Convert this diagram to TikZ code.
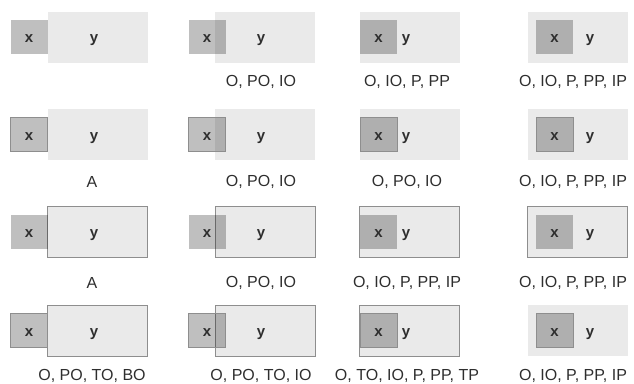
\documentclass[tikz,border=0pt]{standalone}
\usepackage{fontspec}
\setmainfont{Liberation Sans}
\definecolor{yFill}{HTML}{EAEAEA}
\definecolor{rim}{HTML}{8E8E8E}
\definecolor{ink}{HTML}{2E2E2E}

\begin{document}
\begin{tikzpicture}[
  x=1pt, y=-1pt,
  font=\fontsize{16}{19}\selectfont,
  big/.style={minimum width=100pt, minimum height=51pt, inner sep=0pt,
              fill=yFill},
  small/.style={minimum width=37pt, minimum height=34pt, inner sep=0pt,
                fill=black, fill opacity=0.25},
  framed/.style={draw=rim, line width=0.8pt},
  bare/.style={},
  letter/.style={text=ink, font=\fontsize{15}{18}\selectfont\bfseries,
                 anchor=base, inner sep=0pt},
  tag/.style={text=ink},
]
  \useasboundingbox (0,0) rectangle (634,383);

  % --- one panel per cell: x box against y box, relations written below ---
  \foreach \i/\c/\r/\ys/\xs/\cap in {
      1/1/1/bare/bare/{},
      2/2/1/bare/bare/{O, PO, IO},
      3/3/1/bare/bare/{O, IO, P, PP},
      4/4/1/bare/bare/{O, IO, P, PP, IP},
      5/1/2/bare/framed/{A},
      6/2/2/bare/framed/{O, PO, IO},
      7/3/2/bare/framed/{O, PO, IO},
      8/4/2/bare/framed/{O, IO, P, PP, IP},
      9/1/3/framed/bare/{A},
      10/2/3/framed/bare/{O, PO, IO},
      11/3/3/framed/bare/{O, IO, P, PP, IP},
      12/4/3/framed/bare/{O, IO, P, PP, IP},
      13/1/4/framed/framed/{O, PO, TO, BO},
      14/2/4/framed/framed/{O, PO, TO, IO},
      15/3/4/framed/framed/{O, TO, IO, P, PP, TP},
      16/4/4/bare/framed/{O, IO, P, PP, IP}%
  }{
    \pgfmathsetmacro{\bx}{{97.5,265,409.5,577.5}[\c-1]}
    \pgfmathsetmacro{\sx}{{29,207,378.5,554.5}[\c-1]}
    \pgfmathsetmacro{\lx}{{94,261,406,590}[\c-1]}
    \pgfmathsetmacro{\tx}{{92,261,407,573}[\c-1]}
    \pgfmathsetmacro{\by}{{37,134.5,232,330.5}[\r-1]}
    \pgfmathsetmacro{\ty}{{82,182,283,376}[\r-1]}
    \node[big, \ys] (big\i) at (\bx,\by) {};
    \node[small, \xs] (small\i) at (\sx,\by) {};
    \node[letter] (ylab\i) at (\lx,\by+5.5) {y};
    \node[letter] (xlab\i) at (\sx,\by+5.5) {x};
    \node[tag] (cap\i) at (\tx,\ty) {\cap};
  }
\end{tikzpicture}
\end{document}
